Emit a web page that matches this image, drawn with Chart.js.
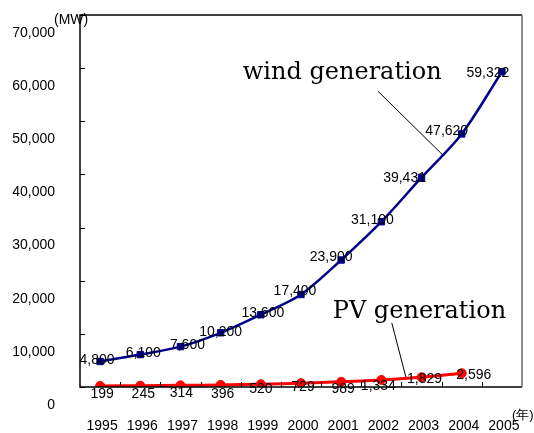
<!DOCTYPE html>
<html>
<head>
<meta charset="utf-8">
<script src="https://cdn.jsdelivr.net/npm/chart.js@4.4.0/dist/chart.umd.min.js"></script>
<style>
  html, body { margin:0; padding:0; background:#fff; }
  #wrap { width:534px; height:433px; position:relative; }
</style>
</head>
<body>
<div id="wrap"><canvas id="c"></canvas></div>
<script>
// --- data ---
const years = ['1995','1996','1997','1998','1999','2000','2001','2002','2003','2004','2005'];
const windMW = [4800, 6100, 7600, 10200, 13600, 17400, 23900, 31100, 39431, 47620, 59322];
const pvMW = [199, 245, 314, 396, 520, 729, 989, 1334, 1829, 2596, null];

// label nudges (px) so they sit like the original
const windShift = [[-3,-1],[3,-1],[7,-1],[0,-1],[2,-2],[-6,-3],[-10,-3],[-9,-2],[-17,1],[-15,-3],[-14,1]];
const pvShift = [[2,8],[3,8],[1,8],[2,9],[0,5],[2,4],[2,7],[-3,6],[3,2],[12,2]];

const sans = "'Liberation Sans', Arial, sans-serif";
const serif = "'DejaVu Serif', serif";

const framePlugin = {
    id: 'frame',
    afterDraw(chart){
        const {ctx, chartArea: a, scales:{x, y}} = chart;
        ctx.save();
        // box
        ctx.strokeStyle = '#000';
        ctx.lineWidth = 1.5;
        ctx.beginPath();
        ctx.moveTo(a.right, a.top); ctx.lineTo(a.left, a.top); ctx.lineTo(a.left, a.bottom); ctx.lineTo(a.right, a.bottom);
        ctx.stroke();
        ctx.strokeStyle = '#666';
        ctx.beginPath(); ctx.moveTo(a.right, a.top); ctx.lineTo(a.right, a.bottom); ctx.stroke();
        // inner ticks
        ctx.strokeStyle = '#000';
        ctx.lineWidth = 1;
        y.ticks.forEach(t=>{
            const py = Math.round(y.getPixelForValue(t.value)) + 0.5;
            ctx.beginPath(); ctx.moveTo(a.left, py); ctx.lineTo(a.left+5, py); ctx.stroke();
        });
        for(let i=1;i<years.length;i++){
            const px = Math.round(x.getPixelForValue(i-0.5)) + 0.5;
            ctx.beginPath(); ctx.moveTo(px, a.bottom); ctx.lineTo(px, a.bottom-5); ctx.stroke();
        }

        // axis labels (drawn here: the original has them shifted off the ticks)
        ctx.fillStyle = '#000';
        ctx.font = '14px ' + sans;
        ctx.textAlign = 'right';
        ctx.textBaseline = 'middle';
        y.ticks.forEach(t=>{
            ctx.fillText(t.value.toLocaleString('en-US'), a.left-25, y.getPixelForValue(t.value)+18);
        });
        ctx.textAlign = 'center';
        ctx.textBaseline = 'top';
        years.forEach((yr,i)=>{
            ctx.fillText(yr, x.getPixelForValue(i)+2, a.bottom+32);
        });

        // unit labels
        ctx.font = '14px ' + sans;
        ctx.textAlign = 'left';
        ctx.textBaseline = 'middle';
        ctx.fillText('(MW)', a.left-26, a.top+5);
        ctx.font = '13px ' + sans;
        ctx.fillText('(年)', a.right-10, a.bottom+28);

        // leader lines + series names
        const line = (x1,y1,x2,y2)=>{
            ctx.beginPath();
            ctx.moveTo(x.getPixelForValue(x1), y.getPixelForValue(y1));
            ctx.lineTo(x.getPixelForValue(x2), y.getPixelForValue(y2));
            ctx.stroke();
        };
        ctx.lineWidth = 1;
        line(6.91, 55700, 8.53, 43650);
        line(7.26, 12050, 7.61, 1880);
        ctx.font = '24px ' + serif;
        ctx.fillText('wind generation', x.getPixelForValue(3.55), y.getPixelForValue(59100));
        ctx.fillText('PV generation', x.getPixelForValue(5.79), y.getPixelForValue(14100));

        // point labels
        ctx.font = '14px ' + sans;
        ctx.textAlign = 'center';
        const labelSet = (dsIndex, values, shifts)=>{
            chart.getDatasetMeta(dsIndex).data.forEach((pt,i)=>{
                if(values[i] == null) return;
                const s = shifts[i] || [0,0];
                ctx.fillText(values[i].toLocaleString('en-US'), pt.x + s[0], pt.y + s[1]);
            });
        };
        labelSet(0, windMW, windShift);
        labelSet(1, pvMW, pvShift);
        ctx.restore();
    }
};

new Chart(document.getElementById('c').getContext('2d'), {
    type: 'line',
    data: {
        labels: years,
        datasets: [{
            label: 'wind generation',
            data: windMW,
            borderColor: '#00008b',
            backgroundColor: '#00008b',
            borderWidth: 2.5,
            pointStyle: 'rect',
            pointRadius: 4.5,
            pointBorderWidth: 1,
            tension: 0.3
        },{
            label: 'PV generation',
            data: pvMW,
            borderColor: '#ff0000',
            backgroundColor: '#ff0000',
            borderWidth: 3,
            pointStyle: 'circle',
            pointRadius: 4.5,
            pointBorderWidth: 1,
            tension: 0.3
        }]
    },
    options: {
        responsive: true,
        maintainAspectRatio: false,
        animation: false,
        layout: { padding: { top: 15, right: 12, left: 0, bottom: 0 } },
        plugins: { legend: { display:false }, tooltip: { enabled:false } },
        scales: {
            x: {
                offset: true,
                grid: { display:false, drawTicks:false },
                border: { display:false },
                ticks: { display:false },
                afterFit(s){ s.height = 46; }
            },
            y: {
                min: 0, max: 70000,
                grid: { display:false, drawTicks:false },
                border: { display:false },
                ticks: { display:false, stepSize: 10000 },
                afterFit(s){ s.width = 80; }
            }
        }
    },
    plugins: [framePlugin]
});
</script>
</body>
</html>
